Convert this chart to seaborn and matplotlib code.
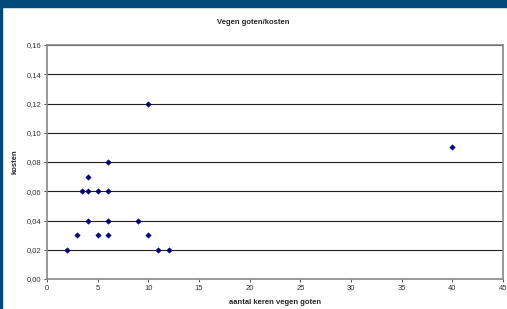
import matplotlib
matplotlib.use("Agg")
import matplotlib.pyplot as plt
import seaborn as sns
import pandas as pd
from matplotlib.patches import Rectangle

# keer vegen vs kosten
aantal = [2, 3, 3.5, 4, 4, 4, 5, 5, 6, 6, 6, 6, 9, 10, 10, 11, 12, 40]
kosten = [0.02, 0.03, 0.06, 0.06, 0.07, 0.04, 0.06, 0.03, 0.08, 0.06, 0.04, 0.03, 0.04, 0.12, 0.03, 0.02, 0.02, 0.09]
x_ticks = [0, 5, 10, 15, 20, 25, 30, 35, 40, 45]
y_ticks = [0.00, 0.02, 0.04, 0.06, 0.08, 0.10, 0.12, 0.14, 0.16]

df = pd.DataFrame({"aantal": aantal, "kosten": kosten})

sns.set_style("white")
plt.rcParams['font.family'] = ['Liberation Sans', 'DejaVu Sans']

fig = plt.figure(figsize=(5.07, 3.09), dpi=100)
ax = fig.add_axes([47 / 507, 1 - 279 / 309, 456 / 507, 234 / 309])

for y in y_ticks[1:]:
    ax.axhline(y, color='#222222', lw=0.8, zorder=1)

sns.scatterplot(data=df, x="aantal", y="kosten", marker='D', s=8, color='#000080',
                edgecolor='#000080', linewidth=0.3, ax=ax, zorder=3)

ax.set_xlim(0, 45)
ax.set_ylim(0, 0.16)
ax.set_xticks(x_ticks)
ax.set_yticks(y_ticks)
ax.set_xticklabels([str(t) for t in x_ticks])
ax.set_yticklabels([f"{t:.2f}".replace('.', ',') for t in y_ticks])
ax.tick_params(labelsize=5.5, length=2, width=0.6, colors='#333333', direction='out', pad=2)
ax.tick_params(axis='both', which='both', bottom=True, left=True)
for s in ax.spines.values():
    s.set_color('#888888')
    s.set_linewidth(1.2)
ax.set_xlabel("aantal keren vegen goten", fontsize=5.5, fontweight='bold', labelpad=5)
ax.set_ylabel("kosten", fontsize=5.5, fontweight='bold', labelpad=6)
fig.text(0.5, 1 - 22 / 309, "Vegen goten/kosten", ha='center', va='center',
         fontsize=5.5, fontweight='bold')

# donkerblauwe rand
fig.patches.append(Rectangle((0, 1 - 7 / 309), 1, 7 / 309, transform=fig.transFigure,
                             color='#004a7a', zorder=0))
fig.patches.append(Rectangle((0, 0), 2 / 507, 1, transform=fig.transFigure,
                             color='#004a7a', zorder=0))

fig.savefig("out.png", dpi=100)
